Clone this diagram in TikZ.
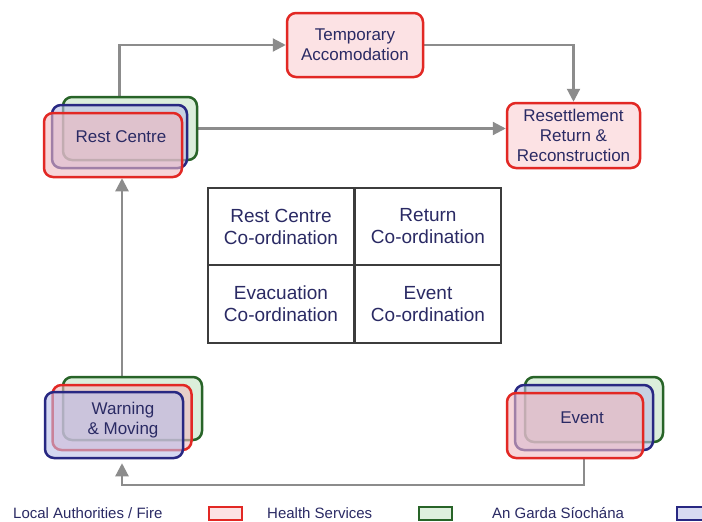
\documentclass[tikz,border=0pt]{standalone}
\usepackage{fontspec}
\setmainfont{Liberation Sans}
\usetikzlibrary{arrows.meta,backgrounds}
\definecolor{txt}{RGB}{42,42,100}
\definecolor{lnred}{RGB}{226,40,36}
\definecolor{lngreen}{RGB}{40,100,40}
\definecolor{lnblue}{RGB}{40,40,130}
\definecolor{fred}{RGB}{240,185,192}
\definecolor{fgreen}{RGB}{195,228,195}
\definecolor{fblue}{RGB}{185,190,232}
\definecolor{pinkfill}{RGB}{252,226,228}
\definecolor{lgreenfill}{RGB}{222,240,222}
\definecolor{lbluefill}{RGB}{215,218,242}
\definecolor{arrowgray}{RGB}{140,140,140}
\definecolor{gridline}{RGB}{60,60,60}
\begin{document}
\begin{tikzpicture}[x=1pt,y=-1pt,
  stacklayer/.style={draw, rounded corners=9pt, line width=2.5pt, fill opacity=0.6, inner sep=0pt},
  redlayer/.style={stacklayer, draw=lnred, fill=fred},
  greenlayer/.style={stacklayer, draw=lngreen, fill=fgreen},
  bluelayer/.style={stacklayer, draw=lnblue, fill=fblue},
  solobox/.style={draw=lnred, fill=pinkfill, rounded corners=9pt, line width=2.5pt, inner sep=0pt, text=txt, align=center, font={\fontsize{17}{20}\selectfont}},
  boxtext/.style={text=txt, align=center, font={\fontsize{17}{20}\selectfont}},
  cell/.style={draw=gridline, line width=2.5pt, minimum width=146pt, text=txt, align=center, font={\fontsize{19}{22}\selectfont}},
  flow/.style={draw=arrowgray, line width=2.2pt, -{Triangle[length=13pt,width=13pt]}},
  legbox/.style={minimum width=33pt, minimum height=13pt, line width=2pt, inner sep=0pt},
  legtext/.style={anchor=west, text=txt, inner sep=0pt, font={\fontsize{15}{17}\selectfont}}]
\useasboundingbox (0,0) rectangle (702,522);
\clip (0,0) rectangle (702,522);

% Rest Centre stack
\node[greenlayer, minimum width=134pt, minimum height=63pt] (rcG) at (130,128.5) {};
\node[bluelayer, minimum width=135pt, minimum height=63pt] (rcB) at (119.5,136.5) {};
\node[redlayer, minimum width=138pt, minimum height=64pt] (rcR) at (113,145) {};
\node[boxtext] (rcT) at (121,137) {Rest Centre};

% Warning & Moving stack
\node[greenlayer, minimum width=139pt, minimum height=63pt] (wmG) at (132.5,408.5) {};
\node[redlayer, minimum width=139pt, minimum height=65pt] (wmR) at (122,417.5) {};
\node[bluelayer, minimum width=138pt, minimum height=66pt] (wmB) at (114,425) {};
\node[boxtext] (wmT) at (123,420) {Warning\\\& Moving};

% Event stack
\node[greenlayer, minimum width=138pt, minimum height=65pt] (evG) at (594,409.5) {};
\node[bluelayer, minimum width=138pt, minimum height=65pt] (evB) at (584,417.5) {};
\node[redlayer, minimum width=136pt, minimum height=65pt] (evR) at (575,425.5) {};
\node[boxtext] (evT) at (582,418) {Event};

% Single boxes
\node[solobox, minimum width=136pt, minimum height=64pt] (temp) at (355,45) {Temporary\\Accomodation};
\node[solobox, minimum width=133pt, minimum height=65pt] (res) at (573.5,135.5) {Resettlement\\Return \&\\Reconstruction};

% Co-ordination grid
\node[cell, minimum height=77pt] (ctl) at (281,226.5) {Rest Centre\\Co-ordination};
\node[cell, minimum height=77pt] (ctr) at (428,226.5) {Return\\Co-ordination};
\node[cell, minimum height=78pt] (cbl) at (281,304) {Evacuation\\Co-ordination};
\node[cell, minimum height=78pt] (cbr) at (428,304) {Event\\Co-ordination};

% Connectors (behind the boxes)
\begin{scope}[on background layer]
\fill[white] (0,0) rectangle (702,522);
\draw[flow] (rcB.north |- rcG.north) |- (temp.west);
\draw[flow] (temp.east) -| (res.north);
\draw[flow] (rcG.east) -- (rcG.east -| res.west);
\draw[flow] (wmR.north |- wmG.north) -- (wmR.north |- rcR.south);
\coordinate (evDrop) at ([yshift=-26pt]evR.south -| evB.south);
\draw[flow] (evB.south |- evR.south) -- (evDrop) -| ([yshift=-4pt]wmB.south -| wmR.south);
\end{scope}

% Legend
\node[legtext] (lgLA) at (13,513) {Local Authorities / Fire};
\node[legbox, draw=lnred, fill=pinkfill] (lgR) at (225.5,513.5) {};
\node[legtext] (lgHS) at (267,513) {Health Services};
\node[legbox, draw=lngreen, fill=lgreenfill] (lgG) at (435,513.5) {};
\node[legtext] (lgGS) at (492,513) {An Garda Síochána};
\node[legbox, draw=lnblue, fill=lbluefill] (lgB) at (693.5,513.5) {};
\end{tikzpicture}
\end{document}
